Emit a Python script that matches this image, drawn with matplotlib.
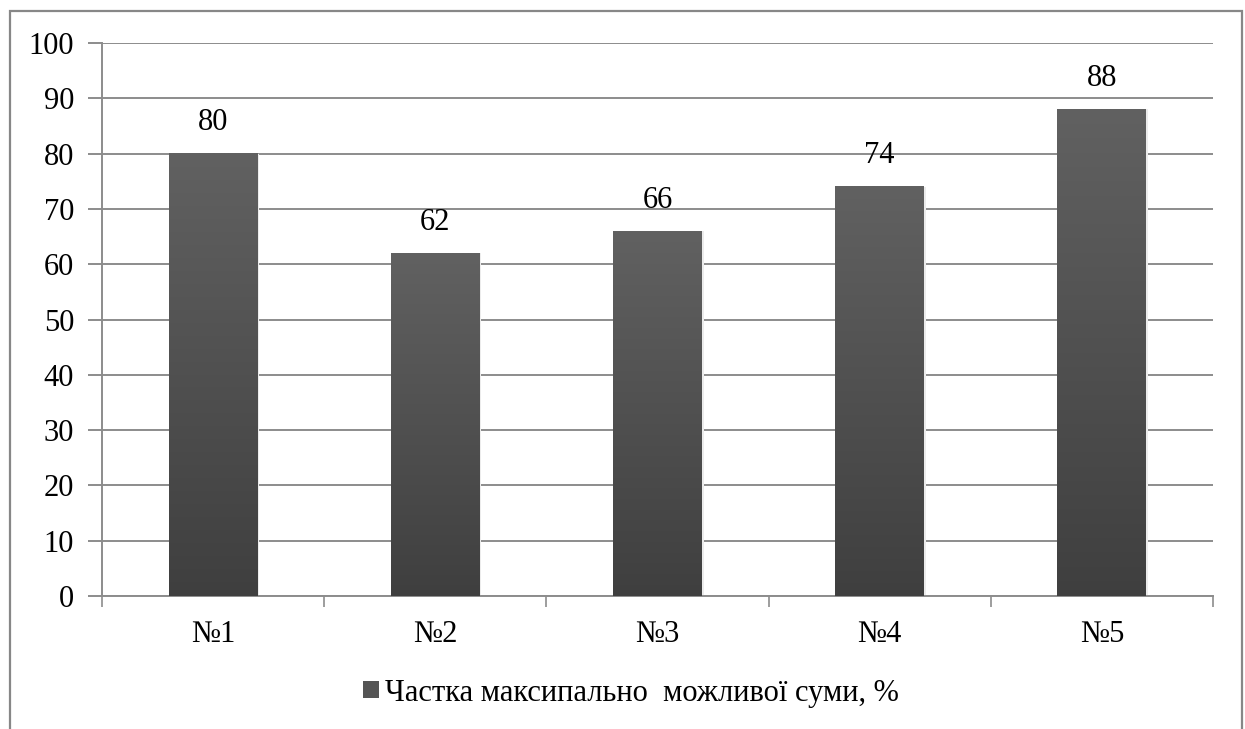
import matplotlib.pyplot as plt
import numpy as np
from matplotlib.patches import Rectangle
from matplotlib.colors import LinearSegmentedColormap

categories = ['№1', '№2', '№3', '№4', '№5']
values = [80, 62, 66, 74, 88]
series_name = 'Частка максипально  можливої суми, %'

plt.rcParams['font.family'] = ['Liberation Serif', 'DejaVu Serif']

fig = plt.figure(figsize=(12.45, 7.29), dpi=100)
ax = fig.add_axes([0.0819, 0.1824, 0.8924, 0.7586])

grey = '#8c8c8c'
fs = 22
bar_width = 0.4
x = np.arange(len(categories))

# plain bars (used for the legend handle), painted over with a vertical gradient
bars = ax.bar(x, values, width=bar_width, color='#555555', zorder=2, label=series_name)
shade = LinearSegmentedColormap.from_list('shade', ['#3f3f3f', '#616161'])
grad = np.linspace(0, 1, 256).reshape(-1, 1)
for b in bars:
    x0, w, h = b.get_x(), b.get_width(), b.get_height()
    ax.imshow(grad, cmap=shade, origin='lower', aspect='auto',
              extent=[x0, x0 + w, 0, h], zorder=3)
    # faint shadow on the right side
    ax.add_patch(Rectangle((x0 + w, 0), 0.008, h, color='#ececec', lw=0, zorder=1.5))
    ax.text(x0 + w / 2, h + 5.6, f'{h:g}', ha='center', va='center', fontsize=fs, zorder=4)

ax.set_xlim(-0.5, len(categories) - 0.5)
ax.set_ylim(0, 100)
ax.set_yticks(np.arange(0, 101, 10))
ax.yaxis.grid(True, color=grey, lw=1.4, zorder=0)
ax.set_axisbelow(True)

# category boundaries carry the tick marks, labels sit in between
ax.set_xticks(np.arange(-0.5, len(categories)), minor=False)
ax.set_xticklabels([])
ax.set_xticks(x, minor=True)
ax.set_xticklabels(categories, minor=True)
ax.tick_params(axis='x', which='major', length=8, width=1.2, color=grey, direction='out')
ax.tick_params(axis='x', which='minor', length=0, pad=17, labelsize=fs)
ax.tick_params(axis='y', length=10, width=1.4, color=grey, pad=10, labelsize=fs)

for side in ['top', 'right']:
    ax.spines[side].set_visible(False)
for side in ['left', 'bottom']:
    ax.spines[side].set_color(grey)
    ax.spines[side].set_linewidth(1.4)

leg = fig.legend(handles=[bars], labels=[series_name], loc='center',
                 bbox_to_anchor=(631 / 1245, 1 - 693 / 729), frameon=False,
                 fontsize=fs, handlelength=0.5, handleheight=0.5, handletextpad=0.2)

# outer chart border (open at the bottom edge)
fig.patches.append(Rectangle((10 / 1245, -0.05), 1232 / 1245, 1.05 - 11 / 729,
                             transform=fig.transFigure, fill=False,
                             edgecolor='#878787', lw=1.6))

fig.savefig('out.png', dpi=100)
